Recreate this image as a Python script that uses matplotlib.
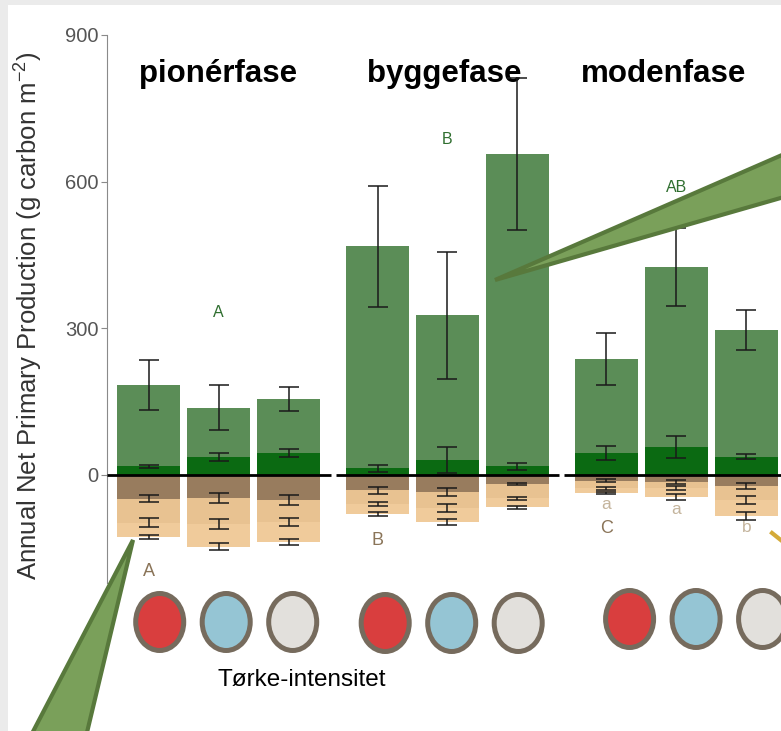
import matplotlib.pyplot as plt
from matplotlib.patches import Ellipse, Polygon, Rectangle

plt.rcParams['font.family'] = ['Liberation Sans', 'DejaVu Sans']
plt.rcParams['mathtext.fontset'] = 'custom'
plt.rcParams['mathtext.rm'] = 'Liberation Sans'
plt.rcParams['mathtext.it'] = 'Liberation Sans:italic'

# phases and drought treatments
phases = ['pionérfase', 'byggefase', 'modenfase']
drought_colors = ['#d93e3e', '#95c5d4', '#e2e0dc']

# aboveground (positive) production, 9 bars = 3 phases x 3 treatments
total = [184, 137, 155, 468, 327, 656, 237, 426, 297]
total_err = [52, 46, 25, 124, 130, 155, 53, 80, 41]
under = [18, 37, 45, 14, 31, 18, 45, 57, 37]
under_err = [3, 8, 8, 7, 27, 7, 15, 23, 5]

# belowground layers (cumulative, negative)
brown = [-49, -47, -51, -31, -35, -19, -12, -14, -22]
brown_err = [7, 10, 11, 7, 7.5, 2.5, 3, 4, 6]
mid = [-98, -100, -96, -59, -67, -48, -27, -27, -51]
mid_err = [9, 10, 8, 4.5, 8, 3.5, 3, 4, 7.5]
low = [-127, -147, -137, -80, -96, -66, -37, -45, -84]
low_err = [4, 7.5, 6, 4, 6, 3, 2, 6, 8]

# significance letters
top_letters = ['A', 'B', 'AB']
top_letter_y = [333, 687, 587]
bottom_letters = ['A', 'B', 'C']
bottom_letter_y = [-198, -135, -110]
small_letters = ['a', 'a', 'b']
small_letter_y = [-61, -70, -108]

W, H = 781, 731
fig = plt.figure(figsize=(W / 100, H / 100), dpi=100, facecolor='#ebebeb')
fig.add_artist(Rectangle((8 / W, 0), 1, 1 - 5 / H, transform=fig.transFigure,
                         facecolor='white', edgecolor='none', zorder=-5))


def fx(x):
    return x / W


def fy(y):
    return 1 - y / H


ax = fig.add_axes([fx(107), fy(583), fx(W - 107), (583 - 32) / H])
ax.set_facecolor('none')

G = 229 / 70
pos = [g * G + i for g in range(3) for i in range(3)]
bw = 0.9
ek = dict(ecolor='#1a1a1a', elinewidth=1.1, capsize=7.5, capthick=1.1, fmt='none', zorder=5)

ax.bar(pos, total, width=bw, color='#5b8d57', zorder=2)
ax.bar(pos, under, width=bw, color='#0b6a12', zorder=3)
ax.bar(pos, low, width=bw, color='#f0cb9b', zorder=2)
ax.bar(pos, mid, width=bw, color='#e8c291', zorder=3)
ax.bar(pos, brown, width=bw, color='#987c5e', zorder=4)

ax.errorbar(pos, total, yerr=total_err, **ek)
ax.errorbar(pos, under, yerr=under_err, **ek)
ax.errorbar(pos, brown, yerr=brown_err, **ek)
ax.errorbar(pos, mid, yerr=mid_err, **ek)
ax.errorbar(pos, low, yerr=low_err, **ek)

title_dx = [0, -0.05, -0.19]
for g in range(3):
    p0, p1, p2 = pos[3 * g], pos[3 * g + 1], pos[3 * g + 2]
    ax.plot([p0 - 0.6, p2 + 0.6], [0, 0], color='black', lw=2, zorder=6,
            solid_capstyle='butt')
    ax.text(p1 + title_dx[g], 804, phases[g], ha='center', va='baseline',
            fontsize=22.5, fontweight='bold', color='black')
    ax.text(p1, top_letter_y[g], top_letters[g], ha='center', va='center',
            fontsize=11.5, color='#2f6e2f')
    ax.text(p0, bottom_letter_y[g], bottom_letters[g], ha='center', va='center',
            fontsize=13, color='#8a7458')
for i in range(3):
    ax.text(pos[6 + i], small_letter_y[i], small_letters[i], ha='center',
            va='center', fontsize=12.5, color='#c4b49c')

ax.set_xlim(-0.593, pos[-1] + 0.493)
ax.set_ylim(-221, 906)
ax.set_yticks([0, 300, 600, 900])
for s in ['top', 'right', 'bottom']:
    ax.spines[s].set_visible(False)
ax.spines['left'].set_color('#8a8a8a')
ax.spines['left'].set_bounds(-221, 900)
ax.tick_params(axis='y', colors='#8a8a8a', labelcolor='#555555', labelsize=14.5,
               length=4, pad=2)
ax.set_xticks([])
ax.set_ylabel('Annual Net Primary Production (g carbon m$^{-2}$)', fontsize=18.5,
              color='#333333')
ax.yaxis.set_label_coords(-0.092, 0.485)

# drought-intensity circles
cax = fig.add_axes([fx(107), fy(660), fx(W - 107), 70 / H], sharex=ax)
cax.axis('off')
cax.set_ylim(0, 70)
circle_shift = [0.16, 0.11, 0.33]
circle_y = [38, 37, 41]
for g in range(3):
    for i in range(3):
        cx = g * G + circle_shift[g] + i * 0.95
        cax.add_patch(Ellipse((cx, circle_y[g]), 0.686, 57,
                              facecolor=drought_colors[i], edgecolor='#766b5d',
                              lw=3.6, clip_on=False))

fig.text(fx(302), fy(680), 'Tørke-intensitet', ha='center', va='center',
         fontsize=17.5, color='black')

# callout pointers
fig.add_artist(Polygon([(fx(133), fy(540)), (fx(26), fy(745)), (fx(84), fy(745))],
                       closed=True, transform=fig.transFigure, facecolor='#7aa05a',
                       edgecolor='#58793c', lw=3, zorder=10))
fig.add_artist(Polygon([(fx(495), fy(280)), (fx(805), fy(145)), (fx(805), fy(191))],
                       closed=True, transform=fig.transFigure, facecolor='#7aa05a',
                       edgecolor='#58793c', lw=3, zorder=10))
fig.add_artist(plt.Line2D([fx(772), fx(792)], [fy(533), fy(549)], color='#d4aa38',
                          lw=3, transform=fig.transFigure, zorder=10))

fig.savefig('out.png', dpi=100, facecolor=fig.get_facecolor())
